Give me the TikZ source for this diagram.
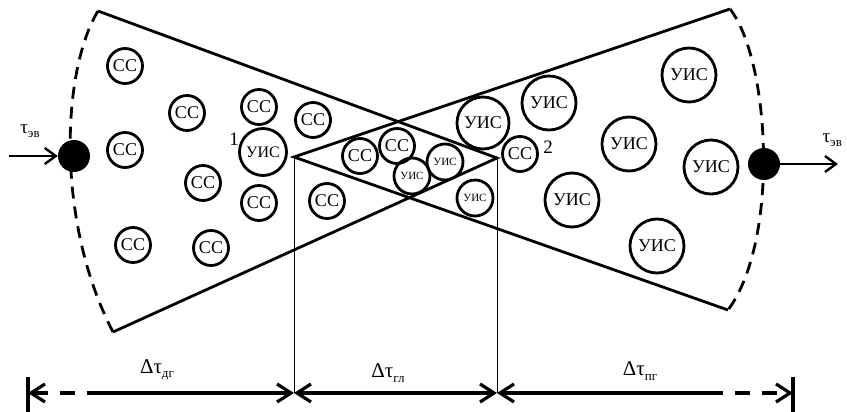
\documentclass[tikz,border=0pt]{standalone}
\usepackage{fontspec}
\setmainfont{Liberation Serif}
\usetikzlibrary{arrows.meta}
\newcommand{\lowsub}[1]{\raisebox{-0.45ex}{\fontsize{13}{13}\selectfont #1}}
\begin{document}
\begin{tikzpicture}[
  x=1pt, y=-1pt,
  ss/.style={draw, circle, line width=2.8pt, inner sep=0pt, minimum size=35pt, font=\fontsize{18}{18}\selectfont},
  uis/.style={ss, minimum size=54pt},
  uisa/.style={ss, minimum size=47pt},
  uism/.style={ss, minimum size=36pt, font=\fontsize{11}{11}\selectfont},
  edge/.style={line width=2.8pt},
  rim/.style={line width=2.8pt, dash pattern=on 12pt off 8pt},
  dot/.style={circle, fill, inner sep=0pt, minimum size=32pt},
  lbl/.style={font=\fontsize{19}{19}\selectfont},
  dim/.style={line width=3.2pt},
  dimdash/.style={dim, dash pattern=on 15pt off 12pt},
  >={Straight Barb[length=14pt,width=18pt]}
]
\useasboundingbox (0,0) rectangle (847,412);
\coordinate (tl) at (98,11);
\coordinate (bl) at (113,332);
\coordinate (tr) at (730,9);
\coordinate (br) at (728,310);
\coordinate (vl) at (294,157);
\coordinate (vr) at (497,158);
\draw[edge] (tl) -- (vr) -- (bl);
\draw[edge] (tr) -- (vl) -- (br);
\draw[rim] (tl) .. controls (62,70) and (55,220) .. (bl);
\draw[rim] (tr) .. controls (770,60) and (780,240) .. (br);
\node[dot] (inL) at (74,156) {};
\node[dot] (outR) at (764,164) {};
\coordinate (src) at (9,156);
\coordinate (dst) at (838,164);
\draw[line width=2.4pt, -{Straight Barb[length=11pt,width=16pt]}] (src) -- (inL);
\draw[line width=2.4pt, -{Straight Barb[length=11pt,width=16pt]}] (outR) -- (dst);
\node[lbl] (tauin) at (30,131) {τ\lowsub{эв}};
\node[lbl, anchor=west] (tauout) at (819,140) {τ\lowsub{эв}};

\node[ss] (ss1) at (125,66) {СС};
\node[ss] (ss2) at (187,113) {СС};
\node[ss] (ss3) at (259,107) {СС};
\node[ss] (ss4) at (125,150) {СС};
\node[ss] (ss5) at (203,183) {СС};
\node[ss] (ss6) at (259,203) {СС};
\node[ss] (ss7) at (133,245) {СС};
\node[ss] (ss8) at (211,248) {СС};
\node[uisa, font=\fontsize{16}{16}\selectfont] (uis1) at (263,152) {УИС};
\node[lbl] (n1) at (234,139) {1};

\node[ss] (ss9) at (313,120) {СС};
\node[ss] (ss10) at (360,156) {СС};
\node[ss] (ss11) at (397,146) {СС};
\node[ss] (ss12) at (327,201) {СС};
\node[uism] (uis2) at (412,176) {УИС};
\node[uism] (uis3) at (445,162) {УИС};
\node[uism] (uis4) at (475,198) {УИС};
\node[uis, minimum size=52pt] (uis5) at (483,123) {УИС};
\node[ss] (ss13) at (520,154) {СС};
\node[lbl] (n2) at (548,147) {2};

\node[uis] (uis6) at (549,103) {УИС};
\node[uis] (uis7) at (689,75) {УИС};
\node[uis] (uis8) at (629,144) {УИС};
\node[uis] (uis9) at (711,167) {УИС};
\node[uis] (uis10) at (572,200) {УИС};
\node[uis] (uis11) at (657,246) {УИС};

\coordinate (d0) at (28,393);
\coordinate (dl) at (100,393);
\coordinate (d1) at (294,393);
\coordinate (d2) at (497,393);
\coordinate (dr) at (708,393);
\coordinate (d3) at (793,393);
\coordinate (k0t) at (28,377);
\coordinate (k0b) at (28,412);
\coordinate (k3t) at (793,377);
\coordinate (k3b) at (793,412);
\draw[dim] (k0t) -- (k0b);
\draw[dim] (k3t) -- (k3b);
\draw[line width=1pt] (vl) -- (d1);
\draw[line width=1pt] (vr) -- (d2);
\draw[dimdash, <-] (d0) -- (dl);
\draw[dim, ->] (dl) -- (d1);
\draw[dim, <->] (d1) -- (d2);
\draw[dim, <-] (d2) -- (dr);
\draw[dimdash, ->] (dr) -- (d3);
\node[font=\fontsize{21}{21}\selectfont] (tdg) at (157,370) {Δτ\lowsub{дг}};
\node[font=\fontsize{21}{21}\selectfont] (tgl) at (388,373) {Δτ\lowsub{гл}};
\node[font=\fontsize{21}{21}\selectfont] (tpg) at (640,371) {Δτ\lowsub{пг}};
\end{tikzpicture}
\end{document}
